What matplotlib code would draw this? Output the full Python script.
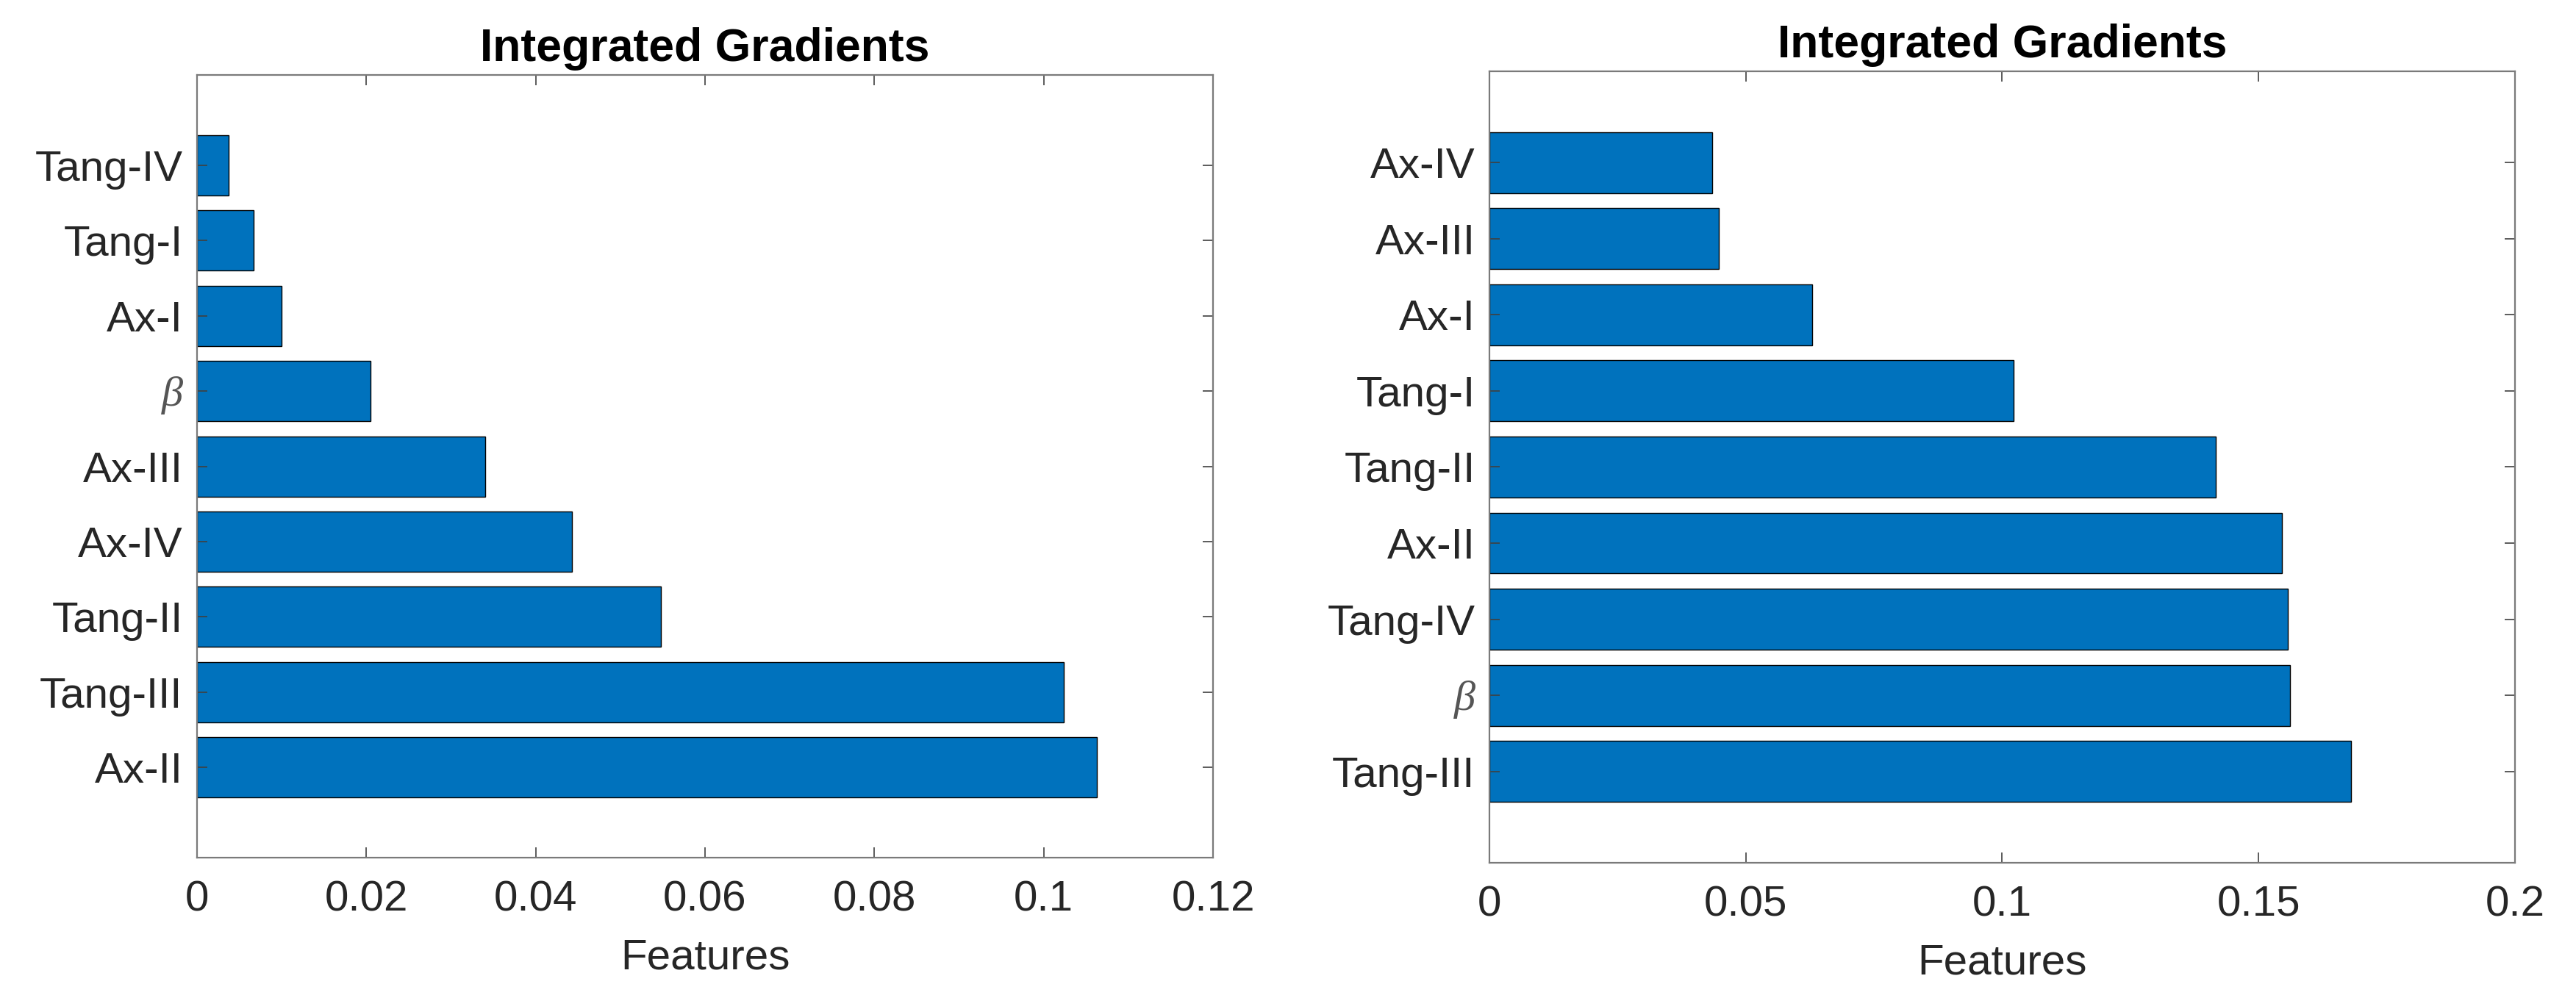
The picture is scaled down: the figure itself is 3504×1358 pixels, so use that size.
import matplotlib
matplotlib.use("Agg")
import matplotlib.pyplot as plt

# left panel, bottom to top
left_labels = ["Ax-II", "Tang-III", "Tang-II", "Ax-IV", "Ax-III", "β", "Ax-I", "Tang-I", "Tang-IV"]
left_values = [0.1063, 0.1024, 0.0548, 0.0443, 0.0340, 0.0205, 0.0100, 0.0067, 0.0037]
left_xticks = [0, 0.02, 0.04, 0.06, 0.08, 0.1, 0.12]
left_xticklabels = ["0", "0.02", "0.04", "0.06", "0.08", "0.1", "0.12"]

# right panel, bottom to top
right_labels = ["Tang-III", "β", "Tang-IV", "Ax-II", "Tang-II", "Tang-I", "Ax-I", "Ax-III", "Ax-IV"]
right_values = [0.1680, 0.1562, 0.1557, 0.1546, 0.1416, 0.1022, 0.0630, 0.0448, 0.0435]
right_xticks = [0, 0.05, 0.1, 0.15, 0.2]
right_xticklabels = ["0", "0.05", "0.1", "0.15", "0.2"]

title = "Integrated Gradients"
xlabel = "Features"

plt.rcParams["font.family"] = ["Liberation Sans", "DejaVu Sans"]

BAR = "#0072BD"
SPINE = "#7a7a7a"
TEXT = "#262626"

fig = plt.figure(figsize=(35.04, 13.58), dpi=100)
ax_l = fig.add_axes([0.0765, 0.1406, 0.3944, 0.7842])
ax_r = fig.add_axes([0.5782, 0.1355, 0.3981, 0.7931])


def draw(ax, labels, values, xticks, xticklabels):
    pos = list(range(1, len(labels) + 1))
    ax.barh(pos, values, height=0.8, color=BAR, edgecolor="black", linewidth=1.0)
    ax.set_ylim(-0.2, 10.2)
    ax.set_xlim(xticks[0], xticks[-1])
    ax.set_yticks(pos)
    ax.set_yticklabels(labels)
    ax.set_xticks(xticks)
    ax.set_xticklabels(xticklabels)
    ax.tick_params(axis="both", direction="in", length=10, width=1.2, color="#404040",
                   labelsize=42, labelcolor=TEXT, top=True, right=True)
    ax.tick_params(axis="x", pad=22)
    ax.tick_params(axis="y", pad=14)
    for sp in ax.spines.values():
        sp.set_color(SPINE)
        sp.set_linewidth(1.6)
    for t in ax.get_yticklabels():
        if t.get_text() == "β":
            t.set_family(["Liberation Serif", "DejaVu Serif"])
            t.set_style("italic")
            t.set_color("#555555")
    ax.set_title(title, fontsize=45, fontweight="bold", pad=14, color="black")
    ax.set_xlabel(xlabel, fontsize=42, color=TEXT, labelpad=18)


draw(ax_l, left_labels, left_values, left_xticks, left_xticklabels)
draw(ax_r, right_labels, right_values, right_xticks, right_xticklabels)

fig.savefig("out.png", dpi=100, facecolor="white")
plt.close(fig)
